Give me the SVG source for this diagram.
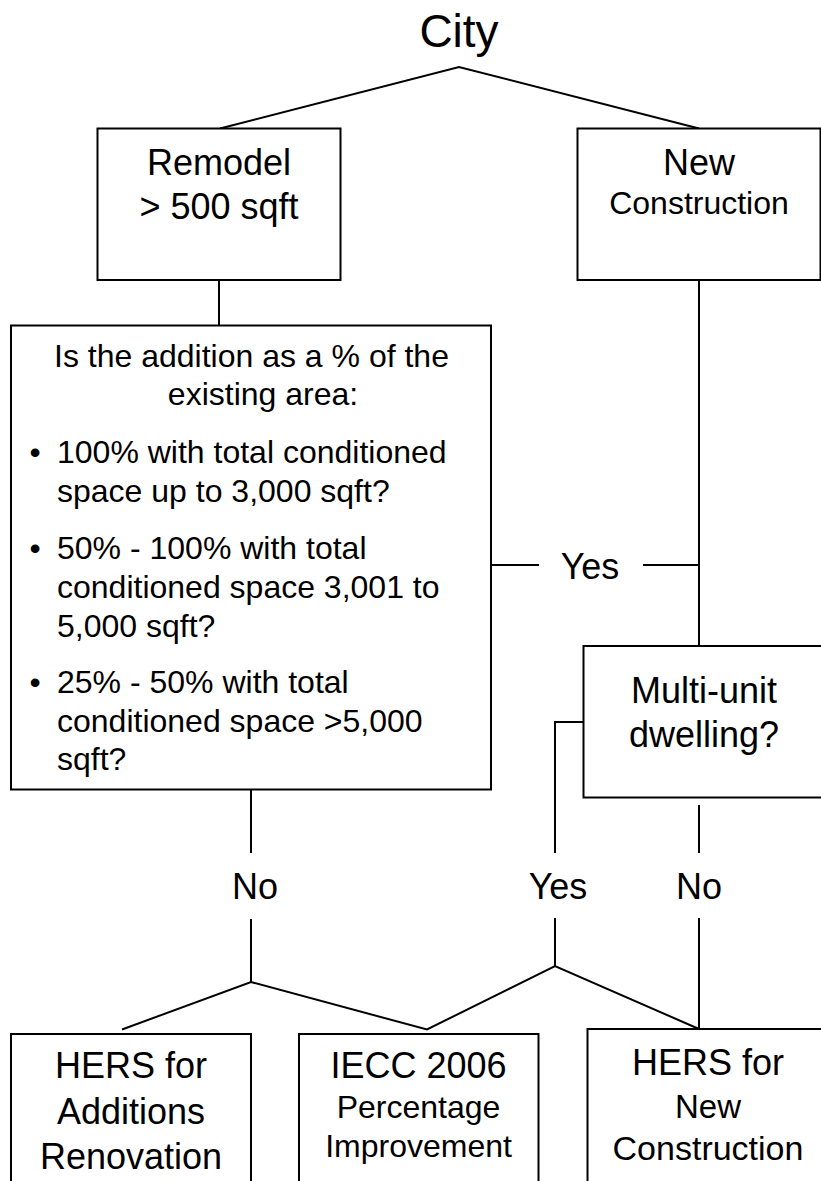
<svg xmlns="http://www.w3.org/2000/svg" width="821" height="1181" viewBox="0 0 821 1181">
<style>
  text { font-family: "Liberation Sans", Arial, sans-serif; fill: #000; }
  .c { text-anchor: middle; }
  .box { fill: #fff; stroke: #000; stroke-width: 2; }
  .ln { fill: none; stroke: #000; stroke-width: 2; }
  .f36 { font-size: 36px; }
  .f32 { font-size: 32px; }
</style>
<rect width="821" height="1181" fill="#fff"/>
<g id="connectors">
  <polyline class="ln" points="220,128.5 459,67 699,128.5"/>
  <line class="ln" x1="219" y1="280" x2="219" y2="325.5"/>
  <line class="ln" x1="699" y1="280" x2="699" y2="646"/>
  <line class="ln" x1="491" y1="565" x2="539" y2="565"/>
  <line class="ln" x1="643" y1="565" x2="699" y2="565"/>
  <polyline class="ln" points="583.5,722 555,722 555,853"/>
  <line class="ln" x1="251" y1="790" x2="251" y2="853"/>
  <line class="ln" x1="251" y1="919" x2="251" y2="982"/>
  <line class="ln" x1="555" y1="918" x2="555" y2="966"/>
  <line class="ln" x1="699" y1="805" x2="699" y2="853"/>
  <line class="ln" x1="699" y1="918" x2="699" y2="1029"/>
  <polyline class="ln" points="122,1029.5 251,982 427,1029.5 555,966 699,1029"/>
</g>
<g id="city">
  <text class="c" x="459" y="47" font-size="46">City</text>
</g>
<g id="remodel">
  <rect class="box" x="97.5" y="128.5" width="243" height="151.5"/>
  <text class="c f36" x="219" y="175">Remodel</text>
  <text class="c f36" x="219" y="219">&gt; 500 sqft</text>
</g>
<g id="new-construction">
  <rect class="box" x="577.5" y="128.5" width="243" height="151.5"/>
  <text class="c f36" x="699" y="175">New</text>
  <text class="c f32" x="699" y="214">Construction</text>
</g>
<g id="addition-question">
  <rect class="box" x="11" y="325.5" width="480" height="464"/>
  <text class="c f32" x="251.5" y="367">Is the addition as a % of the</text>
  <text class="c f32" x="263" y="405">existing area:</text>
  <text class="c f32" x="35" y="463">•</text>
  <text class="f32" x="57" y="463">100% with total conditioned</text>
  <text class="f32" x="57" y="502">space up to 3,000 sqft?</text>
  <text class="c f32" x="35" y="559">•</text>
  <text class="f32" x="57" y="559">50% - 100% with total</text>
  <text class="f32" x="57" y="598">conditioned space 3,001 to</text>
  <text class="f32" x="57" y="637">5,000 sqft?</text>
  <text class="c f32" x="35" y="693">•</text>
  <text class="f32" x="57" y="693">25% - 50% with total</text>
  <text class="f32" x="57" y="732">conditioned space &gt;5,000</text>
  <text class="f32" x="57" y="770">sqft?</text>
</g>
<g id="label-yes-mid">
  <text class="c f36" x="590" y="579">Yes</text>
</g>
<g id="multi-unit">
  <rect class="box" x="583.5" y="646" width="250" height="151.5"/>
  <text class="c f36" x="704" y="703">Multi-unit</text>
  <text class="c f36" x="704" y="747">dwelling?</text>
</g>
<g id="label-no-left">
  <text class="c f36" x="255" y="899">No</text>
</g>
<g id="label-yes-bottom">
  <text class="c f36" x="558" y="899">Yes</text>
</g>
<g id="label-no-right">
  <text class="c f36" x="699" y="899">No</text>
</g>
<g id="hers-additions">
  <rect class="box" x="11" y="1034" width="240" height="200"/>
  <text class="c f36" x="131" y="1078">HERS for</text>
  <text class="c f36" x="131" y="1124">Additions</text>
  <text class="c f36" x="131" y="1169">Renovation</text>
</g>
<g id="iecc-2006">
  <rect class="box" x="299" y="1034" width="239.5" height="200"/>
  <text class="c f36" x="418.5" y="1078">IECC 2006</text>
  <text class="c f32" x="418.5" y="1118">Percentage</text>
  <text class="c f32" x="418.5" y="1157">Improvement</text>
</g>
<g id="hers-new">
  <rect class="box" x="587.5" y="1029" width="250" height="200"/>
  <text class="c f36" x="708" y="1075">HERS for</text>
  <text class="c" x="708" y="1118" font-size="33">New</text>
  <text class="c" x="708" y="1160" font-size="34">Construction</text>
</g>
</svg>
